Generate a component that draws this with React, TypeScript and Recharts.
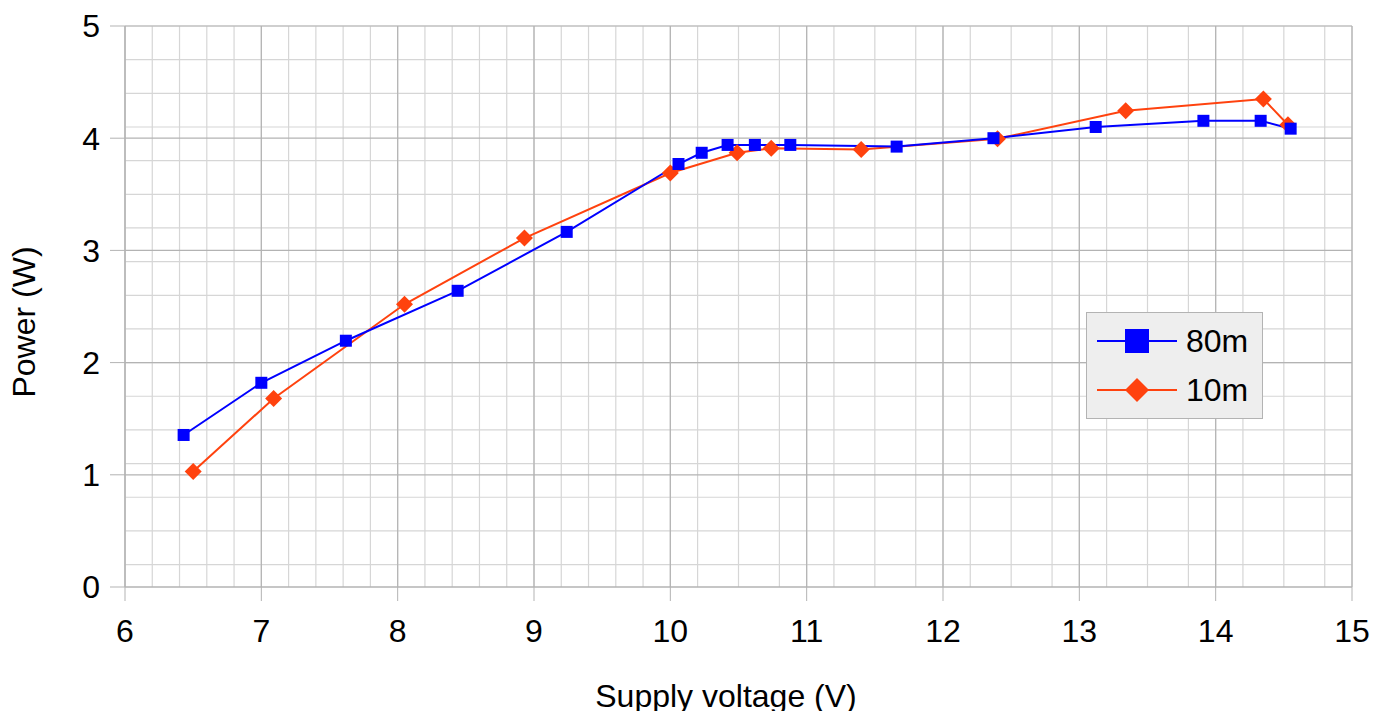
import React from 'react';
import { LineChart, Line, XAxis, YAxis, CartesianGrid } from 'recharts';

// 80m band: supply voltage (V) vs output power (W)
const voltage80m = [6.43, 7.0, 7.62, 8.44, 9.24, 10.06, 10.23, 10.42, 10.62, 10.88, 11.66, 12.37, 13.12, 13.91, 14.33, 14.55];
const power80m = [1.355, 1.82, 2.195, 2.64, 3.165, 3.77, 3.87, 3.94, 3.94, 3.94, 3.925, 4.0, 4.1, 4.155, 4.155, 4.085];

// 10m band
const voltage10m = [6.5, 7.09, 8.05, 8.93, 10.0, 10.49, 10.74, 11.4, 12.4, 13.34, 14.35, 14.53];
const power10m = [1.03, 1.68, 2.52, 3.11, 3.69, 3.87, 3.91, 3.9, 3.995, 4.245, 4.35, 4.12];

const xTicks = [6, 7, 8, 9, 10, 11, 12, 13, 14, 15];
const yTicks = [0, 1, 2, 3, 4, 5];

const BLUE = '#0000ff';
const ORANGE = '#ff420e';
const GRID_MAJOR = '#b3b3b3';
const GRID_MINOR = '#d6d6d6';
const FONT = '"Liberation Sans", Arial, sans-serif';

const data80m = voltage80m.map((x, i) => ({ x, y: power80m[i] }));
const data10m = voltage10m.map((x, i) => ({ x, y: power10m[i] }));

// minor grid every 0.1 unit
const minorX = Array.from({ length: 91 }, (_, i) => 6 + i / 10);
const minorY = Array.from({ length: 51 }, (_, i) => i / 10);

const SquareDot = (props: any) => {
    const { cx, cy, index } = props;
    if (cx == null || cy == null) return null;
    return <rect key={`sq-${index}`} x={cx - 6} y={cy - 6} width={12} height={12} fill={BLUE} />;
};

const DiamondDot = (props: any) => {
    const { cx, cy, index } = props;
    if (cx == null || cy == null) return null;
    const r = 8.5;
    return (
        <polygon
            key={`dm-${index}`}
            points={`${cx},${cy - r} ${cx + r},${cy} ${cx},${cy + r} ${cx - r},${cy}`}
            fill={ORANGE}
        />
    );
};

const renderYLabel = () => (
    <text x={35} y={322} transform="rotate(-90 35 322)" textAnchor="middle" fontSize={32} fill="#000" fontFamily={FONT}>
        Power (W)
    </text>
);

const renderXLabel = () => (
    <text x={726} y={707} textAnchor="middle" fontSize={32} fill="#000" fontFamily={FONT}>
        Supply voltage (V)
    </text>
);

const LegendBox: React.FC = () => (
    <div
        style={{
            position: 'absolute',
            left: 1086,
            top: 312,
            width: 177,
            height: 107,
            boxSizing: 'border-box',
            background: '#eeeeee',
            border: `1px solid ${GRID_MAJOR}`,
        }}
    >
        <svg width={177} height={107} style={{ position: 'absolute', left: -1, top: -1 }}>
            <line x1={11} y1={29} x2={91} y2={29} stroke={BLUE} strokeWidth={2} />
            <rect x={39} y={17} width={24} height={24} fill={BLUE} />
            <text x={100} y={40} fontSize={32} fill="#000" fontFamily={FONT}>80m</text>
            <line x1={11} y1={78} x2={91} y2={78} stroke={ORANGE} strokeWidth={2} />
            <polygon points="51,66 63,78 51,90 39,78" fill={ORANGE} />
            <text x={100} y={89} fontSize={32} fill="#000" fontFamily={FONT}>10m</text>
        </svg>
    </div>
);

export default function App() {
    return (
        <div style={{ position: 'absolute', left: 0, top: 0, width: 1374, height: 711, background: '#fff', fontFamily: FONT }}>
            <LineChart width={1374} height={711} margin={{ top: 26, right: 22, bottom: 0, left: 0 }}>
                <CartesianGrid stroke={GRID_MINOR} strokeWidth={1.2} horizontalValues={minorY} verticalValues={minorX} />
                <CartesianGrid stroke={GRID_MAJOR} strokeWidth={1.2} horizontalValues={yTicks} verticalValues={xTicks} />
                <XAxis
                    type="number"
                    dataKey="x"
                    domain={[6, 15]}
                    ticks={xTicks}
                    allowDataOverflow
                    height={124}
                    stroke={GRID_MAJOR}
                    tickSize={14}
                    tickMargin={18}
                    tick={{ fill: '#000', fontSize: 32, fontFamily: FONT }}
                    label={renderXLabel}
                />
                <YAxis
                    type="number"
                    domain={[0, 5]}
                    ticks={yTicks}
                    allowDataOverflow
                    width={125}
                    stroke={GRID_MAJOR}
                    tickSize={15}
                    tickMargin={10}
                    tick={{ fill: '#000', fontSize: 32, fontFamily: FONT }}
                    label={renderYLabel}
                />
                <Line
                    data={data10m}
                    dataKey="y"
                    type="linear"
                    stroke={ORANGE}
                    strokeWidth={2}
                    dot={DiamondDot}
                    activeDot={false}
                    isAnimationActive={false}
                />
                <Line
                    data={data80m}
                    dataKey="y"
                    type="linear"
                    stroke={BLUE}
                    strokeWidth={2}
                    dot={SquareDot}
                    activeDot={false}
                    isAnimationActive={false}
                />
            </LineChart>
            <LegendBox />
        </div>
    );
}
